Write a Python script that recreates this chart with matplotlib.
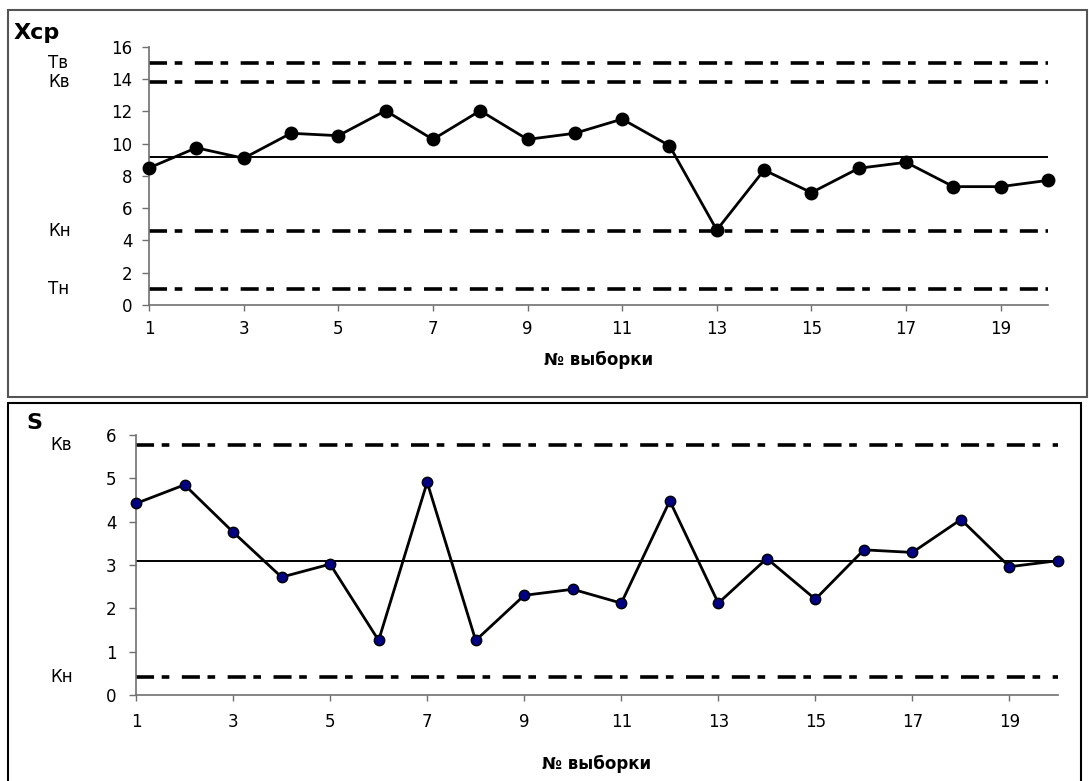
import matplotlib
matplotlib.use("Agg")
import matplotlib.pyplot as plt
from matplotlib.patches import Rectangle
from matplotlib.transforms import blended_transform_factory

plt.rcParams["font.family"] = ["DejaVu Sans"]
plt.rcParams["lines.scale_dashes"] = False

# sample numbers
samples = list(range(1, 21))

# mean chart
xbar = [8.5, 9.75, 9.1, 10.65, 10.5, 12.05, 10.27, 12.05, 10.27, 10.65,
        11.53, 9.88, 4.65, 8.37, 6.97, 8.48, 8.85, 7.34, 7.34, 7.73]
xbar_center = 9.2
xbar_limits = [("Тв", 15.0), ("Кв", 13.8), ("Кн", 4.6), ("Тн", 1.0)]

# standard deviation chart
sdev = [4.42, 4.85, 3.76, 2.72, 3.02, 1.26, 4.91, 1.26, 2.30, 2.44,
        2.12, 4.48, 2.12, 3.15, 2.21, 3.35, 3.29, 4.05, 2.96, 3.10]
sdev_center = 3.1
sdev_limits = [("Кв", 5.77), ("Кн", 0.42)]

xticks = list(range(1, 20, 2))
dash = (0, (13, 5.5, 5.5, 9))

W, H = 1089, 781
fig = plt.figure(figsize=(W / 100, H / 100), dpi=100)

# frames around both charts
fig.add_artist(Rectangle((8 / W, 1 - 397 / H), 1079 / W, 387 / H,
                         transform=fig.transFigure, fill=False,
                         edgecolor="#555555", linewidth=1.5))
fig.add_artist(Rectangle((8 / W, 1 - 785 / H), 1073 / W, 382 / H,
                         transform=fig.transFigure, fill=False,
                         edgecolor="black", linewidth=1.5))


def setup(ax, ymax, ystep, xpad, ypad):
    ax.set_xlim(1, 20)
    ax.set_ylim(0, ymax)
    ax.set_xticks(xticks)
    ax.set_yticks(range(0, ymax + 1, ystep))
    for s in ("top", "right"):
        ax.spines[s].set_visible(False)
    for s in ("left", "bottom"):
        ax.spines[s].set_color("#707070")
        ax.spines[s].set_linewidth(1.2)
    ax.tick_params(axis="x", direction="out", length=4, width=1,
                   color="#707070", labelsize=12, pad=xpad)
    ax.tick_params(axis="y", direction="out", length=5, width=1,
                   color="#707070", labelsize=12, pad=ypad)


def limit_labels(ax, x_px, limits):
    trans = blended_transform_factory(fig.transFigure, ax.transData)
    for name, val in limits:
        ax.axhline(val, color="black", linewidth=2.6, linestyle=dash)
        ax.text(x_px / W, val, name, transform=trans, fontsize=12,
                va="center", ha="left")


# top chart
ax1 = fig.add_axes([149 / W, 1 - 305 / H, 899 / W, 258 / H])
setup(ax1, 16, 2, 7, 7)
ax1.axhline(xbar_center, color="black", linewidth=1.4)
limit_labels(ax1, 48, xbar_limits)
ax1.plot(samples, xbar, color="black", linewidth=2, marker="o",
         markersize=9, markerfacecolor="black", clip_on=False, zorder=5)
ax1.set_xlabel("№ выборки", fontsize=12, fontweight="bold", labelpad=9)
fig.text(14 / W, 1 - 33 / H, "Хср", fontsize=16, fontweight="bold",
         va="center", ha="left")

# bottom chart
ax2 = fig.add_axes([136 / W, 1 - 695 / H, 922 / W, 260 / H])
setup(ax2, 6, 1, 9, 9)
ax2.axhline(sdev_center, color="black", linewidth=1.4)
limit_labels(ax2, 50, sdev_limits)
ax2.plot(samples, sdev, color="black", linewidth=2, marker="o",
         markersize=7.5, markerfacecolor="#000080", markeredgecolor="black",
         markeredgewidth=1, clip_on=False, zorder=5)
ax2.set_xlabel("№ выборки", fontsize=12, fontweight="bold", labelpad=17)
fig.text(26 / W, 1 - 423 / H, "S", fontsize=16, fontweight="bold",
         va="center", ha="left")

fig.savefig("out.png", dpi=100)
